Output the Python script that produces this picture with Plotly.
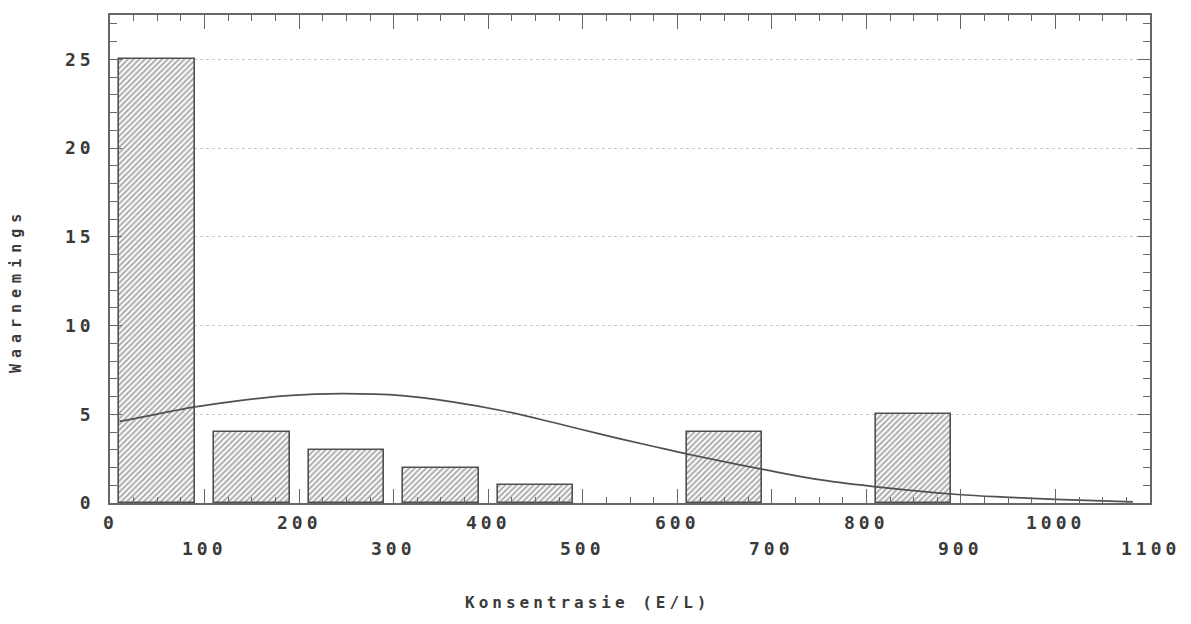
import plotly.graph_objects as go

# ---- data ----
bin_centers = [50, 150, 250, 350, 450, 650, 850]
counts = [25, 4, 3, 2, 1, 4, 5]
bar_width = 80

curve_x = [10, 19, 88, 131, 188, 245, 309, 362, 415, 468, 521, 574, 614, 695, 752, 816, 897, 946, 1000, 1082]
curve_y = [4.6, 4.68, 5.4, 5.73, 6.05, 6.16, 6.05, 5.7, 5.2, 4.55, 3.85, 3.2, 2.72, 1.85, 1.3, 0.88, 0.48, 0.33, 0.2, 0.06]

x_tick_vals = [0, 100, 200, 300, 400, 500, 600, 700, 800, 900, 1000, 1100]
x_tick_text = ["0", "100", "200", "300", "400", "500", "600", "700", "800", "900", "1000", "1100"]
y_tick_vals = [0, 5, 10, 15, 20, 25]
y_tick_text = ["0", "5", "10", "15", "20", "25"]

x_title = "Konsentrasie (E/L)"
y_title = "Waarnemings"

FONT = "DejaVu Sans Mono"
INK = "#505050"
TXT = "#3a3a3a"


def spaced(s, px):
    return f'<span style="letter-spacing:{px}px">{s}</span>'


fig = go.Figure()

fig.add_trace(go.Bar(
    x=bin_centers, y=counts, width=bar_width,
    marker=dict(
        color="white",
        line=dict(color=INK, width=1.6),
        pattern=dict(shape="/", size=4, solidity=0.5, fgcolor="#5a5a5a", bgcolor="white"),
    ),
    showlegend=False, hoverinfo="skip",
))

fig.add_trace(go.Scatter(
    x=curve_x, y=curve_y, mode="lines", line_shape="spline",
    line=dict(color=INK, width=1.7), showlegend=False, hoverinfo="skip",
))

axis_common = dict(
    showline=True, linecolor="#666666", linewidth=1.6, mirror="allticks",
    ticks="inside", tickcolor="#666666", tickwidth=1.4,
    zeroline=False,
)

fig.update_xaxes(
    range=[0, 1100], tickmode="array", tickvals=x_tick_vals, showticklabels=False,
    ticklen=14, showgrid=False,
    minor=dict(dtick=25, tick0=0, ticks="inside", ticklen=6, tickcolor="#666666", tickwidth=1.2, showgrid=False),
    **axis_common,
)
fig.update_yaxes(
    range=[0, 27.5], tickmode="array", tickvals=y_tick_vals,
    ticktext=[spaced(t, 4) for t in y_tick_text],
    tickfont=dict(family=FONT, size=18, color=TXT, weight="bold"),
    ticklen=12, ticklabelstandoff=10,
    showgrid=True, gridcolor="#c8c8c8", griddash="dot", gridwidth=1,
    minor=dict(dtick=1, tick0=0, ticks="inside", ticklen=7, tickcolor="#666666", tickwidth=1.2, showgrid=False),
    **axis_common,
)

annotations = []
for i, (v, t) in enumerate(zip(x_tick_vals, x_tick_text)):
    annotations.append(dict(
        x=v, xref="x", y=(-0.039 if i % 2 == 0 else -0.094), yref="paper",
        text=spaced(t, 4), showarrow=False, xanchor="center", yanchor="middle",
        font=dict(family=FONT, size=18, color=TXT, weight="bold"),
    ))
annotations.append(dict(
    x=0.459, xref="paper", y=-0.204, yref="paper", text=spaced(x_title, 4),
    showarrow=False, xanchor="center", yanchor="middle",
    font=dict(family=FONT, size=16, color=TXT, weight="bold"),
))
annotations.append(dict(
    x=-0.091, xref="paper", y=0.435, yref="paper", text=spaced(y_title, 6),
    showarrow=False, xanchor="center", yanchor="middle", textangle=-90,
    font=dict(family=FONT, size=15, color=TXT, weight="bold"),
))

# page body has an 8px default margin, so the figure is shifted by (8, 8)
fig.update_layout(
    width=1183, height=616,
    margin=dict(l=102, r=41, t=5, b=121),
    paper_bgcolor="white", plot_bgcolor="white",
    bargap=0, annotations=annotations,
)

fig.write_html("out.html")
